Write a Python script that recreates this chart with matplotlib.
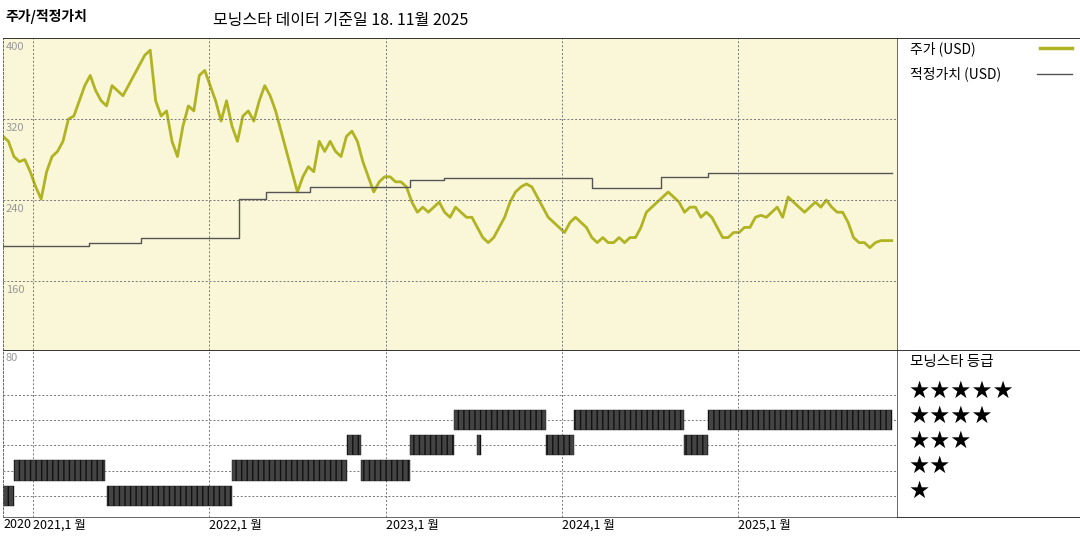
import numpy as np
import matplotlib.pyplot as plt

plt.rcParams['font.family'] = ['Noto Sans CJK KR', 'DejaVu Sans']

# price samples (USD), evenly spaced from Nov 2020 to Nov 2025
price = [303, 298, 283, 278, 280, 268, 253, 241, 268, 283, 288, 298, 320, 323, 338, 353,
         363, 348, 338, 333, 353, 348, 343, 353, 363, 373, 383, 388, 338, 323, 328, 298,
         283, 313, 333, 328, 363, 368, 353, 338, 318, 338, 313, 298, 323, 328, 318, 338,
         353, 343, 328, 308, 288, 268, 248, 263, 273, 268, 298, 288, 298, 288, 283, 303,
         308, 298, 278, 263, 248, 258, 263, 263, 258, 258, 253, 238, 228, 233, 228, 233,
         238, 228, 223, 233, 228, 223, 223, 213, 203, 198, 203, 213, 223, 238, 248, 253,
         256, 253, 243, 233, 223, 218, 213, 208, 218, 223, 218, 213, 203, 198, 203, 198,
         198, 203, 198, 203, 203, 213, 228, 233, 238, 243, 248, 243, 238, 228, 233, 233,
         223, 228, 223, 213, 203, 203, 208, 208, 213, 213, 223, 225, 223, 228, 233, 223,
         243, 238, 233, 228, 233, 238, 233, 240, 233, 228, 228, 218, 203, 198, 198, 193,
         198, 200, 200, 200]
t_start, t_end = 2020.83, 2025.87

# fair value steps: (start year, value)
fv_start = [2020.83, 2021.32, 2021.61, 2022.17, 2022.32, 2022.57, 2023.14, 2023.33,
            2024.17, 2024.56, 2024.83, 2025.87]
fv_value = [195, 198, 203, 241, 248, 253, 260, 262, 252, 263, 267, 267]

# star rating spans: (start year, end year, stars)
star_start = [2020.83, 2020.89, 2021.42, 2022.13, 2022.86, 2022.78, 2023.14, 2023.52,
              2023.91, 2024.69, 2023.39, 2024.07, 2024.83]
star_end = [2020.89, 2021.41, 2022.13, 2022.78, 2023.14, 2022.86, 2023.39, 2023.54,
            2024.07, 2024.83, 2023.91, 2024.69, 2025.87]
stars = [1, 2, 1, 2, 2, 3, 3, 3, 3, 3, 4, 4, 4]

year_ticks = [2020.83, 2021, 2022, 2023, 2024, 2025]
year_labels = ['2020', '2021,1 월', '2022,1 월', '2023,1 월', '2024,1 월', '2025,1 월']

olive = '#b0b322'
fig = plt.figure(figsize=(10.8, 5.4), dpi=100)
W, H = 1080, 540
x0, x1 = 3, 897

ax = fig.add_axes([x0 / W, (H - 350) / H, (x1 - x0) / W, 312 / H])
ax.set_facecolor('#faf6d8')
t = np.linspace(t_start, t_end, len(price))
ax.plot(t, price, color=olive, lw=2)
ax.step(fv_start, fv_value, where='post', color='#555555', lw=1)
ax.set_xlim(2020.83, 2025.9)
ax.set_ylim(92, 400)
for v in [160, 240, 320]:
    ax.axhline(v, color='#777777', ls=(0, (2, 2)), lw=0.7)
for v in [160, 240, 320, 400]:
    ax.text(2020.845, v - 4, str(v), color='#999999', fontsize=8, va='top', ha='left')
for yr in year_ticks[1:]:
    ax.axvline(yr, color='#777777', ls=(0, (2, 2)), lw=0.7)
ax.set_xticks([])
ax.set_yticks([])

bx = fig.add_axes([x0 / W, (H - 517) / H, (x1 - x0) / W, 167 / H])
for s0, s1, s in zip(star_start, star_end, stars):
    bx.broken_barh([(s0, s1 - s0)], (s - 0.4, 0.8), facecolor='#444444',
                   edgecolor='#111111', hatch='|||', lw=0.3)
for r in range(1, 6):
    bx.axhline(r, color='#777777', ls=(0, (2, 2)), lw=0.7, zorder=0)
for yr in year_ticks[1:]:
    bx.axvline(yr, color='#777777', ls=(0, (2, 2)), lw=0.7, zorder=0)
bx.set_xlim(2020.83, 2025.9)
bx.set_ylim(0.15, 6.8)
bx.text(2020.845, 6.7, '80', color='#999999', fontsize=8, va='top')
bx.set_yticks([])
bx.set_xticks(year_ticks)
bx.set_xticklabels(year_labels, fontsize=9)
for lab in bx.get_xticklabels():
    lab.set_ha('left')
bx.tick_params(axis='x', length=0, pad=1)
for a in (ax, bx):
    for sp in a.spines.values():
        sp.set_linewidth(0.7)
        sp.set_color('#666666')
    a.spines['left'].set_linestyle((0, (2, 2)))
    a.spines['top'].set_color('#333333')

# right panel frame lines
fig.add_artist(plt.Line2D([x1 / W, 1], [(H - 38) / H] * 2, color='#333333', lw=0.7))
fig.add_artist(plt.Line2D([x1 / W, 1], [(H - 350) / H] * 2, color='#333333', lw=0.7))
fig.add_artist(plt.Line2D([x1 / W, 1], [(H - 517) / H] * 2, color='#333333', lw=0.7))

fig.text(5 / W, 1 - 16 / H, '주가/적정가치', fontsize=10, fontweight='bold', va='center')
fig.text(213 / W, 1 - 20 / H, '모닝스타 데이터 기준일 18. 11월 2025', fontsize=11.5, va='center')
fig.text(910 / W, 1 - 49 / H, '주가 (USD)', fontsize=10, va='center')
fig.add_artist(plt.Line2D([1040 / W, 1072 / W], [1 - 48 / H] * 2, color=olive, lw=2.5))
fig.text(910 / W, 1 - 74 / H, '적정가치 (USD)', fontsize=10, va='center')
fig.add_artist(plt.Line2D([1037 / W, 1072 / W], [1 - 74 / H] * 2, color='#555555', lw=1))
fig.text(910 / W, 1 - 362 / H, '모닝스타 등급', fontsize=10.5, va='center')
for i, n in enumerate([5, 4, 3, 2, 1]):
    fig.text(908 / W, 1 - (391 + 25 * i) / H, '★' * n, fontsize=17, va='center',
             family=['DejaVu Sans'])

fig.savefig('out.png', dpi=100)
